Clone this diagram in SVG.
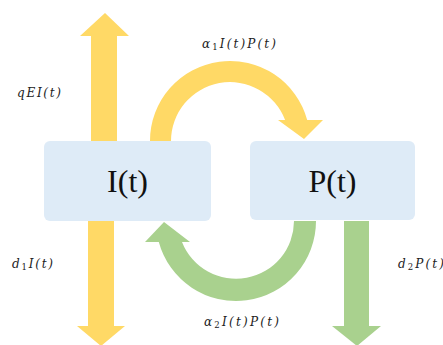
<svg xmlns="http://www.w3.org/2000/svg" width="443" height="345" viewBox="0 0 443 345">
<style>
.y{fill:#FFD966}
.g{fill:#A9D18E}
.box{fill:#DEEBF7}
.nt{font-family:"Liberation Serif","Times New Roman",serif;font-size:32px;fill:#111;text-anchor:middle}
.m{font-family:"DejaVu Serif","Liberation Serif",serif;font-style:italic;font-size:12px;fill:#222}
.s{font-style:normal;font-size:8.5px}
</style>
<rect width="443" height="345" fill="#fff"/>
<g id="connectors">
<polygon class="y" points="91,141 91,36 80,36 105,13 129,36 117,36 117,141"/>
<polygon class="y" points="88,221 88,326 77,326 101,346 125,326 114,326 114,221"/>
<polygon class="g" points="344,221 344,326 332,326 357,346 381,326 369,326 369,221"/>
<path class="y" d="M150,141 A80,80 0 0 1 307.2,120 L323,120 L304,139 L278,120 L285.1,120 A59,59 0 0 0 171,141 Z"/>
<path class="g" d="M316,221 A80,80 0 0 1 158.8,242 L145,242 L164,222 L190,242 L182,242 A58,58 0 0 0 294,221 Z"/>
</g>
<g id="node-I">
<rect class="box" x="44" y="141" width="167" height="80" rx="6"/>
<text class="nt" x="127.5" y="192">I(t)</text>
</g>
<g id="node-P">
<rect class="box" x="250" y="141" width="165" height="79" rx="6"/>
<text class="nt" x="332.5" y="192">P(t)</text>
</g>
<g id="labels">
<text class="m" x="17" y="97" textLength="44" lengthAdjust="spacing">qEI(t)</text>
<text class="m" x="202" y="48" textLength="74" lengthAdjust="spacing">α<tspan class="s" dy="2">1</tspan><tspan dy="-2">I(t)P(t)</tspan></text>
<text class="m" x="12" y="268" textLength="41" lengthAdjust="spacing">d<tspan class="s" dy="2">1</tspan><tspan dy="-2">I(t)</tspan></text>
<text class="m" x="204" y="326" textLength="75" lengthAdjust="spacing">α<tspan class="s" dy="2">2</tspan><tspan dy="-2">I(t)P(t)</tspan></text>
<text class="m" x="398" y="268" textLength="46" lengthAdjust="spacing">d<tspan class="s" dy="2">2</tspan><tspan dy="-2">P(t)</tspan></text>
</g>
</svg>
